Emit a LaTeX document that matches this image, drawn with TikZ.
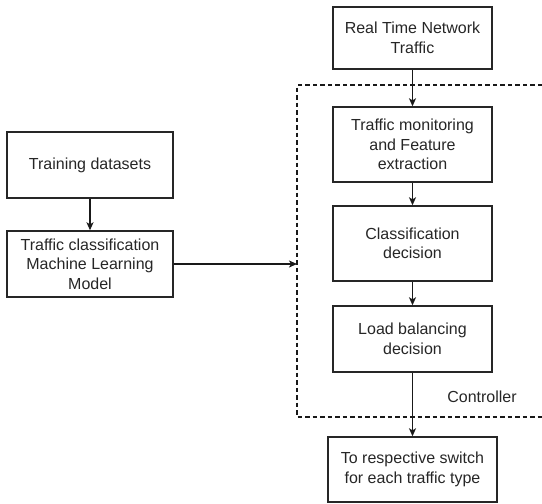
\documentclass[tikz,border=0pt]{standalone}
\usepackage{fontspec}
\setmainfont{Liberation Sans}
\usetikzlibrary{arrows.meta}
\begin{document}
\begin{tikzpicture}[x=1pt,y=-1pt,
  box/.style={draw=black!85,line width=1.4pt,rectangle,inner sep=0pt,align=center,
    font=\fontsize{16}{19.5}\selectfont,text=black!85},
  conn/.style={line width=1.4pt,draw=black!90,-{Stealth[length=8pt,width=7pt,inset=2pt]}},
  ctrl/.style={line width=1.2pt,draw=black!90,dash pattern=on 4.5pt off 3pt}]
\useasboundingbox (0,0) rectangle (542,504);
\node[box,minimum width=159pt,minimum height=62pt] (rt) at (412.5,38) {Real Time Network\\Traffic};
\node[box,minimum width=159pt,minimum height=75pt] (tm) at (412.5,144.5) {Traffic monitoring\\and Feature\\extraction};
\node[box,minimum width=159pt,minimum height=75pt] (cd) at (412.5,243.5) {Classification\\decision};
\node[box,minimum width=159pt,minimum height=66pt] (lb) at (412.5,339) {Load balancing\\decision};
\node[box,minimum width=169pt,minimum height=65pt] (to) at (412.5,469.5) {To respective switch\\for each traffic type};
\node[box,minimum width=166pt,minimum height=66pt] (td) at (90,165) {Training datasets};
\node[box,minimum width=166pt,minimum height=66pt] (ml) at (90,264) {Traffic classification\\Machine Learning\\Model};
\node[font=\fontsize{16}{19}\selectfont,text=black!85] (ctl) at (482,397) {Controller};
\draw[ctrl] (542,85) -- (297,85) -- (297,417) -- (542,417);
\coordinate (din) at (297,264);
\draw[conn] (rt) -- (tm);
\draw[conn] (tm) -- (cd);
\draw[conn] (cd) -- (lb);
\draw[conn] (lb) -- (to);
\draw[conn] (td) -- (ml);
\draw[conn] (ml.east) -- (din);
\end{tikzpicture}
\end{document}
